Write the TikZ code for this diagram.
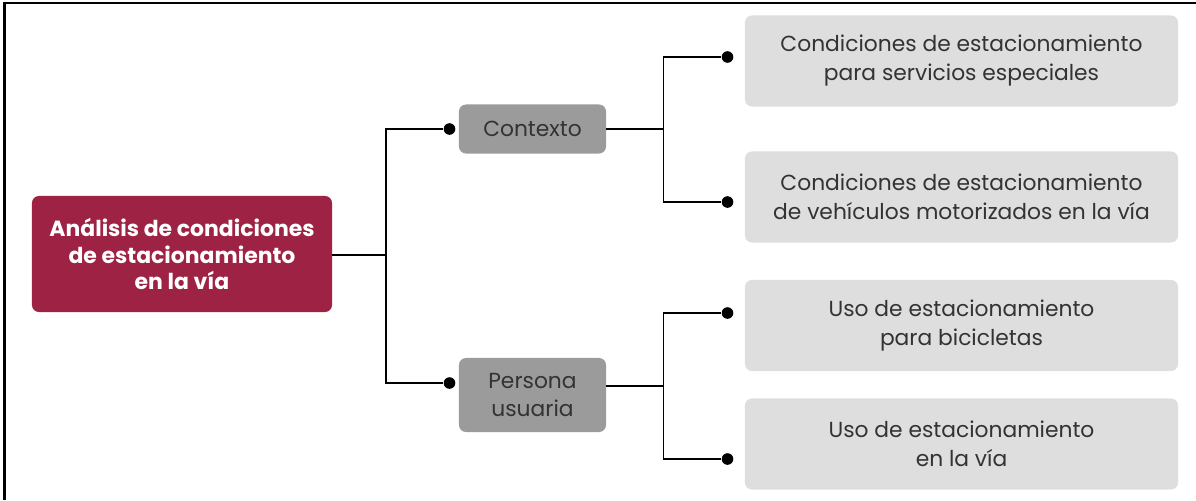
\documentclass[tikz,border=0pt]{standalone}
\usepackage{fontspec}
\setmainfont{Poppins}
\usetikzlibrary{shapes,arrows.meta,positioning,calc}
\usepackage{xcolor}
\definecolor{vino}{HTML}{9E2243}
\definecolor{grismed}{HTML}{9B9B9B}
\definecolor{grisclaro}{HTML}{DEDEDE}
\definecolor{texto}{HTML}{333333}

\begin{document}
\begin{tikzpicture}[x=0.025cm, y=-0.025cm,
  raiz/.style={rectangle, fill=vino, text=white, minimum width=7.5cm, minimum height=2.9cm, align=center, font=\fontsize{15.6}{19}\selectfont\bfseries, rounded corners=5pt, inner sep=0pt},
  rama/.style={rectangle, fill=grismed, text=texto, minimum width=3.675cm, minimum height=#1, align=center, font=\fontsize{15.5}{19.5}\selectfont, rounded corners=5pt, inner sep=0pt},
  hoja/.style={rectangle, fill=grisclaro, text=texto, minimum width=10.825cm, minimum height=2.275cm, align=center, font=\fontsize{15.5}{20.6}\selectfont, rounded corners=5pt, inner sep=0pt},
  dot/.style={circle, fill=black, minimum size=0.29cm, inner sep=0pt},
  ln/.style={line width=1.4pt, black}
]
  \useasboundingbox (0,0) rectangle (1196,500);
  % marco
  \draw[line width=1.6pt] (4.5,500) -- (4.5,3) -- (1196,3);

  \node[raiz]        (main) at (182,254)   {Análisis de condiciones\\de estacionamiento\\en la vía};
  \node[rama=1.225cm] (ctx)  at (532.5,129) {Contexto};
  \node[rama=1.85cm]  (per)  at (532.5,395) {Persona\\usuaria};

  \node[hoja] (h1) at (961.5,61)    {Condiciones de estacionamiento\\para servicios especiales};
  \node[hoja] (h2) at (961.5,197)   {Condiciones de estacionamiento\\de vehículos motorizados en la vía};
  \node[hoja] (h3) at (961.5,325.5) {Uso de estacionamiento\\para bicicletas};
  \node[hoja] (h4) at (961.5,444)   {Uso de estacionamiento\\en la vía};

  % puntos
  \node[dot] (dctx) at (449.5,129) {};
  \node[dot] (dper) at (449.5,383) {};
  \node[dot] (d1)   at (727.5,57)  {};
  \node[dot] (d2)   at (727.5,202) {};
  \node[dot] (d3)   at (727.5,313) {};
  \node[dot] (d4)   at (727.5,459) {};

  \coordinate (jm) at (386,255);
  \coordinate (jc) at (663.5,129);
  \coordinate (jp) at (663.5,386);

  \draw[ln] (main.east |- jm) -- (jm);
  \draw[ln] (jm) |- (dctx);
  \draw[ln] (jm) |- (dper);
  \draw[ln] (ctx.east) -- (jc);
  \draw[ln] (jc) |- (d1);
  \draw[ln] (jc) |- (d2);
  \draw[ln] (per.east |- jp) -- (jp);
  \draw[ln] (jp) |- (d3);
  \draw[ln] (jp) |- (d4);
\end{tikzpicture}
\end{document}
